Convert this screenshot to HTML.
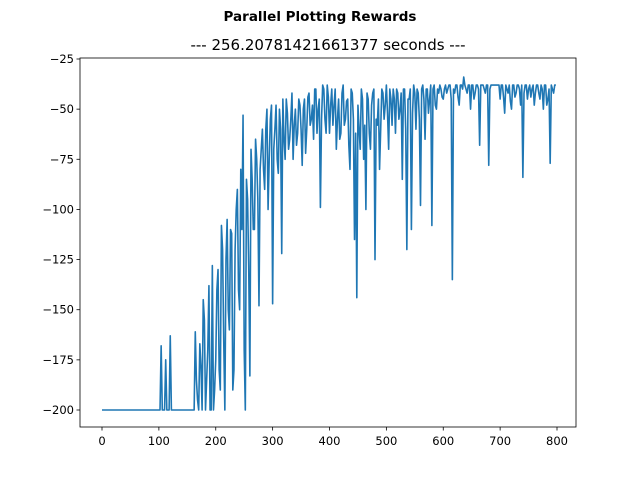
<!DOCTYPE html>
<html><head><meta charset="utf-8"><style>
body{margin:0;background:#fff;font-family:"DejaVu Sans","Liberation Sans",sans-serif}
svg{display:block}
</style></head><body>
<svg id="chart" width="640" height="480">
<text x="320" y="21" text-anchor="middle" font-size="13.5" font-weight="bold">Parallel Plotting Rewards</text>
<text x="328" y="50" text-anchor="middle" font-size="15">--- 256.20781421661377 seconds ---</text>
<g id="plot"></g>
</svg>
<script>
const episodeStep = 4;
// rewards at episodes 0,4,8,...
const rewards = [
-200,-200,-200,-200,-200,-200,-200,-200,-200,-200,-200,-200,-200,-200,-200,-200,-200,-200,-200,-200,-200,-200,-200,-200,-200,
-200,-168,-200,-175,-200,-163,-200,-200,-200,-200,-200,-200,-200,-200,-200,-200,-161,-195,-167,-200,-155,-185,-138,-200,-200,
-175,-130,-190,-120,-200,-105,-160,-112,-180,-100,-140,-80,-53,-200,-95,-183,-85,-110,-75,-148,-70,-80,-60,-100,-55,
-147,-60,-75,-50,-122,-65,-45,-70,-55,-75,-50,-62,-48,-78,-45,-60,-42,-55,-65,-40,-50,-99,-38,-55,-38,
-62,-40,-48,-70,-45,-62,-38,-55,-45,-80,-42,-115,-144,-60,-40,-75,-100,-45,-70,-42,-125,-58,-80,-40,-55,
-38,-70,-45,-40,-62,-42,-50,-85,-40,-120,-45,-110,-38,-60,-42,-98,-38,-65,-40,-45,-108,-38,-50,-42,-40,
-45,-38,-40,-38,-135,-42,-38,-48,-38,-34,-40,-38,-50,-38,-42,-38,-68,-38,-40,-38,-78,-38,-38,-38,-38,
-45,-38,-52,-40,-38,-50,-38,-42,-38,-48,-84,-38,-45,-38,-40,-48,-38,-42,-38,-50,-38,-45,-77,-40,-38
];
// rewards at episodes 2,6,10,...
const rewardsOdd = [
-200,-200,-200,-200,-200,-200,-200,-200,-200,-200,-200,-200,-200,-200,-200,-200,-200,-200,-200,-200,-200,-200,-200,-200,-200,
-200,-200,-200,-200,-200,-200,-200,-200,-200,-200,-200,-200,-200,-200,-200,-200,-185,-200,-178,-145,-200,-170,-200,-128,-190,
-140,-180,-108,-165,-125,-150,-110,-190,-120,-90,-150,-110,-170,-85,-130,-70,-110,-65,-95,-80,-60,-90,-50,-75,-48,
-70,-48,-82,-60,-45,-75,-52,-65,-42,-58,-68,-45,-60,-50,-72,-44,-58,-48,-40,-62,-45,-55,-40,-62,-44,
-48,-58,-40,-55,-65,-42,-58,-46,-68,-40,-55,-62,-48,-70,-45,-58,-42,-62,-48,-40,-55,-45,-60,-42,-48,
-52,-40,-58,-45,-40,-55,-42,-40,-60,-45,-40,-52,-42,-40,-55,-40,-45,-40,-52,-38,-40,-48,-40,-38,-44,
-40,-42,-38,-45,-40,-38,-44,-38,-40,-38,-42,-38,-38,-45,-38,-40,-38,-38,-42,-38,-40,-38,-38,-38,-38,
-38,-44,-38,-42,-46,-38,-44,-38,-40,-38,-42,-38,-40,-44,-38,-42,-38,-45,-40,-38,-48,-40,-38,-42,-38
];
const xTicks = [0,100,200,300,400,500,600,700,800];
const yTicks = [-25,-50,-75,-100,-125,-150,-175,-200];

const NS = "http://www.w3.org/2000/svg";
const L=80,R=576,T=58,B=427;
const xs = v => 102 + v*(557-102)/800;
const ys = v => 410 + (v+200)*(59-410)/175;
const g = document.getElementById('plot');
function mk(tag, attrs){const e=document.createElementNS(NS,tag);for(const k in attrs)e.setAttribute(k,attrs[k]);g.appendChild(e);return e;}

const pts = [];
rewards.forEach((v,i)=>{
  pts.push([i*episodeStep, v]);
  if (i < rewardsOdd.length) pts.push([i*episodeStep + episodeStep/2, rewardsOdd[i]]);
});
let d = pts.map((p,i)=>(i?'L':'M')+xs(p[0]).toFixed(2)+' '+ys(p[1]).toFixed(2)).join(' ');
const line = mk('path',{d:d,fill:'none',stroke:'#1f77b4','stroke-width':1.6,'stroke-linejoin':'round'});



const frame = mk('rect',{x:L,y:T,width:R-L,height:B-T,fill:'none',stroke:'#000','stroke-width':0.8});



xTicks.forEach(t=>{
  const x=xs(t);
  const tk=mk('line',{x1:x,x2:x,y1:B,y2:B+3.5,stroke:'#000','stroke-width':0.8});
  
  
  const lb=mk('text',{x:x,y:B+18,'text-anchor':'middle','font-size':11.5});
  lb.textContent=t;
  
  
});
yTicks.forEach(t=>{
  const y=ys(t);
  const tk=mk('line',{x1:L-3.5,x2:L,y1:y,y2:y,stroke:'#000','stroke-width':0.8});
  
  
  const lb=mk('text',{x:L-6,y:y+4,'text-anchor':'end','font-size':11.5});
  lb.textContent='\u2212'+Math.abs(t);
  
  
});
</script>
</body></html>
